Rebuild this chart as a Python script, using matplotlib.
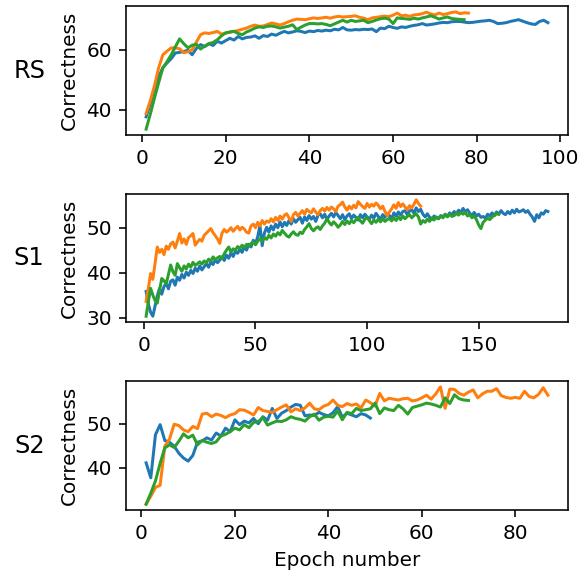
# 三种设置下正确率随训练轮数的变化

import matplotlib
matplotlib.use('Agg')
import matplotlib.pyplot as plt

# RS
rs_blue = [37.6, 42.0, 47.0, 51.0, 54.0, 55.6, 57.0, 58.9, 59.1, 59.4,
           59.8, 58.3, 60.4, 61.7, 61.0, 62.0, 61.4, 62.8, 62.2, 63.0,
           63.8, 63.2, 64.4, 63.6, 64.1, 64.2, 64.6, 63.8, 64.7, 64.4,
           65.2, 64.8, 65.5, 66.1, 65.6, 65.9, 66.3, 66.1, 65.7, 66.2,
           66.0, 66.4, 66.2, 66.5, 66.3, 66.8, 66.6, 67.4, 66.6, 66.5,
           66.7, 66.6, 66.8, 66.7, 66.9, 66.0, 67.2, 67.0, 67.8, 67.4,
           67.1, 67.6, 67.4, 67.8, 68.1, 68.3, 68.7, 68.2, 68.4, 68.6,
           68.9, 69.1, 69.0, 69.3, 69.4, 69.4, 69.2, 69.0, 69.1, 69.3,
           69.5, 69.6, 69.8, 69.4, 68.7, 68.8, 69.0, 69.4, 69.7, 70.0,
           69.5, 69.0, 68.6, 68.4, 69.4, 69.8, 69.0]
rs_orange = [38.7, 43.0, 48.0, 54.0, 58.3, 59.5, 60.6, 60.6, 60.3, 59.0,
             59.3, 60.0, 62.5, 65.0, 65.6, 65.4, 65.7, 66.1, 65.2, 65.5,
             65.8, 66.1, 66.4, 66.8, 67.2, 67.8, 68.2, 67.8, 67.9, 68.4,
             68.9, 68.6, 68.2, 68.7, 69.3, 69.8, 70.2, 70.1, 70.0, 70.3,
             70.6, 70.4, 70.6, 70.8, 70.5, 70.9, 71.1, 70.9, 71.0, 71.1,
             71.3, 70.8, 70.5, 70.0, 70.6, 70.8, 71.0, 71.2, 71.0, 71.5,
             72.2, 71.3, 71.5, 71.1, 71.6, 71.7, 72.0, 72.5, 71.9, 71.6,
             72.2, 71.7, 72.0, 72.4, 72.6, 72.0, 72.3, 72.2]
rs_green = [33.5, 38.5, 43.9, 49.0, 53.9, 56.0, 58.3, 61.0, 63.6, 62.0,
            60.6, 61.5, 61.8, 60.2, 61.2, 62.0, 62.4, 63.3, 64.6, 65.6,
            65.9, 66.1, 65.4, 65.0, 65.9, 66.5, 67.2, 67.6, 67.4, 67.8,
            67.9, 67.6, 67.2, 67.5, 67.8, 68.3, 66.7, 67.5, 68.2, 68.7,
            68.7, 68.6, 68.7, 68.4, 68.0, 68.6, 69.2, 69.8, 69.2, 69.8,
            69.4, 69.6, 69.8, 69.0, 69.4, 69.9, 70.3, 70.5, 70.2, 68.7,
            70.6, 70.4, 70.3, 70.1, 70.5, 70.2, 70.6, 70.9, 71.3, 70.8,
            70.2, 70.6, 70.9, 70.4, 70.2, 70.1, 70.0]

# S1
s1_blue = [35.8, 33.0, 31.2, 30.3, 32.5, 34.8, 36.5, 35.2, 36.9, 37.6,
           36.4, 38.1, 38.4, 37.2, 39.0, 38.3, 39.6, 38.8, 40.1, 39.4,
           40.5, 39.8, 41.0, 40.3, 41.5, 40.6, 41.3, 42.0, 41.2, 42.4,
           41.8, 42.9, 42.2, 42.8, 43.5, 42.7, 43.9, 43.2, 44.4, 43.6,
           44.8, 44.3, 45.2, 44.5, 45.8, 45.0, 46.3, 45.7, 47.2, 46.5,
           48.0, 50.5, 46.0, 48.8, 50.1, 49.0, 50.4, 49.5, 50.8, 50.0,
           51.3, 50.2, 51.2, 50.5, 51.6, 50.8, 52.0, 51.2, 51.8, 52.3,
           51.0, 52.4, 51.6, 52.7, 51.9, 52.5, 51.4, 52.8, 53.1, 52.2,
           53.0, 51.8, 52.6, 53.2, 52.4, 53.4, 52.7, 52.0, 52.9, 51.8,
           52.6, 53.1, 52.0, 52.8, 52.3, 51.7, 52.9, 52.2, 53.0, 52.4,
           51.9, 52.8, 52.1, 53.2, 52.5, 51.8, 52.9, 52.3, 53.1, 52.7,
           52.0, 53.3, 52.6, 53.5, 52.8, 53.6, 53.8, 52.9, 53.7, 54.0,
           53.2, 54.4, 53.6, 54.1, 53.0, 52.4, 53.1, 52.3, 51.8, 52.6,
           52.2, 52.0, 52.7, 52.4, 53.0, 52.5, 53.3, 52.8, 53.6, 53.1,
           53.9, 53.4, 54.3, 53.5, 54.0, 53.2, 52.8, 53.4, 52.6, 53.0,
           52.3, 52.5, 52.1, 53.0, 52.6, 53.3, 52.7, 53.5, 53.0, 53.8,
           53.2, 52.9, 53.6, 53.1, 53.9, 53.3, 54.1, 53.5, 53.7, 54.0,
           53.4, 53.8, 53.0, 52.4, 51.4, 52.9, 52.2, 53.3, 53.0, 53.8,
           53.6]
s1_orange = [33.6, 36.5, 39.8, 38.5, 42.0, 45.7, 44.5, 45.2, 44.0, 45.9,
             45.2, 46.4, 46.8, 45.5, 47.0, 48.7, 46.6, 47.5, 46.3, 47.8,
             48.2, 48.7, 46.1, 46.8, 47.4, 47.0, 48.3, 48.8, 49.3, 49.8,
             48.9, 48.2, 47.5, 46.5, 48.8, 49.6, 49.0, 49.4, 50.0, 49.2,
             49.8, 50.3, 49.5, 50.1, 49.7, 49.0, 48.8, 50.4, 50.8, 50.0,
             51.2, 50.4, 51.6, 50.8, 51.5, 51.2, 52.0, 51.3, 52.3, 51.6,
             52.6, 51.9, 52.8, 53.1, 52.2, 51.4, 52.9, 53.4, 52.6, 53.2,
             53.8, 53.0, 54.1, 53.6, 53.3, 54.2, 53.5, 52.9, 53.8, 54.3,
             53.7, 54.5, 53.9, 54.6, 54.2, 53.6, 54.8, 55.1, 55.7, 54.6,
             53.9, 54.8, 54.2, 55.0, 54.4, 55.8, 55.2, 54.7, 54.3, 55.4,
             54.6, 55.2, 54.8, 55.5, 55.0, 54.2, 54.8, 53.6, 52.7, 53.5,
             54.2, 55.1, 54.3, 55.6, 54.7, 55.3, 54.6, 54.0, 54.9, 54.4,
             55.2, 56.2, 55.4, 54.8]
s1_green = [30.3, 33.5, 36.5, 35.0, 33.8, 33.2, 36.0, 38.7, 38.2, 37.5,
            39.6, 41.7, 40.2, 39.4, 42.0, 41.1, 40.3, 41.5, 40.8, 41.9,
            41.2, 42.3, 41.6, 42.0, 42.4, 41.9, 42.6, 42.2, 43.0, 42.6,
            43.5, 42.9, 43.3, 43.6, 43.1, 44.2, 45.0, 45.7, 44.6, 45.3,
            45.0, 45.8, 45.4, 46.1, 45.6, 46.3, 45.9, 46.5, 46.8, 46.2,
            47.0, 47.5, 47.1, 47.8, 47.4, 48.3, 47.7, 48.6, 48.1, 48.9,
            48.4, 49.4, 48.8, 48.2, 47.9, 48.6, 49.1, 48.5, 48.3, 49.0,
            48.7, 49.6, 50.2, 50.9, 49.8, 49.3, 49.9, 50.2, 49.6, 50.4,
            51.0, 52.0, 51.2, 50.6, 51.3, 50.8, 50.1, 50.6, 51.4, 50.7,
            51.5, 50.9, 51.6, 51.1, 51.8, 52.3, 51.5, 51.0, 51.9, 52.3,
            51.6, 50.9, 51.7, 51.2, 51.9, 51.3, 52.0, 51.4, 51.8, 52.1,
            51.5, 52.2, 51.6, 52.4, 51.8, 52.6, 52.0, 52.5, 52.9, 52.2,
            52.7, 53.1, 52.4, 50.8, 51.6, 51.2, 51.9, 51.4, 52.2, 51.7,
            52.4, 52.0, 52.6, 52.2, 52.9, 52.4, 53.0, 52.5, 52.7, 53.2,
            52.8, 53.4, 53.0, 53.4, 52.6, 52.9, 52.2, 52.6, 51.8, 50.6,
            49.8, 51.2, 51.7, 52.1, 51.8, 52.4, 52.7, 53.1, 53.0]

# S2
s2_blue = [41.1, 37.7, 47.5, 49.8, 46.2, 45.8, 44.9, 43.3, 42.2, 41.5,
           42.8, 45.8, 46.1, 46.8, 46.3, 47.9, 47.2, 49.0, 48.2, 50.9,
           49.8, 50.6, 50.2, 51.2, 50.0, 51.6, 50.8, 53.5, 51.2, 52.4,
           53.0, 53.8, 54.4, 54.2, 51.8, 52.0, 51.9, 52.6, 52.1, 51.8,
           52.5, 53.9, 51.5, 52.4, 52.0, 51.6, 52.3, 52.0, 51.3]
s2_orange = [31.7, 33.5, 35.5, 36.0, 44.9, 46.5, 49.9, 49.6, 48.6, 48.2,
             49.4, 48.9, 52.2, 52.4, 51.6, 52.2, 51.9, 51.4, 52.0, 52.3,
             53.2, 53.1, 52.6, 52.0, 53.7, 53.0, 52.8, 52.6, 53.2, 53.8,
             54.3, 52.7, 53.4, 53.0, 53.6, 54.7, 53.4, 53.2, 54.0, 54.4,
             55.4, 54.2, 53.9, 54.6, 54.2, 54.5, 53.6, 55.4, 54.8, 54.0,
             56.9, 55.2, 55.8, 55.6, 55.4, 55.7, 55.8, 55.2, 55.4, 55.9,
             56.5, 55.6, 56.8, 58.4, 53.5, 57.9, 57.8, 56.9, 56.5, 57.2,
             57.7, 55.9, 56.8, 57.4, 57.4, 58.0, 56.4, 56.0, 55.8, 56.0,
             55.8, 57.4, 56.2, 55.9, 56.7, 58.2, 56.5]
s2_green = [31.7, 34.2, 37.0, 41.0, 44.5, 45.2, 44.6, 46.0, 47.7, 46.8,
            47.4, 45.2, 46.2, 45.8, 45.5, 45.9, 47.2, 47.6, 48.2, 49.0,
            48.6, 49.8, 49.1, 50.3, 50.5, 51.4, 49.7, 50.2, 50.6, 50.5,
            50.9, 51.6, 51.2, 51.0, 50.6, 51.6, 52.2, 50.8, 51.5, 51.7,
            51.5, 52.9, 50.9, 52.6, 52.3, 53.5, 53.0, 53.2, 53.4, 54.7,
            52.3, 53.6, 53.2, 53.0, 54.2, 53.4, 52.2, 53.7, 54.0, 54.3,
            54.7, 54.5, 54.2, 53.8, 55.9, 54.6, 56.6, 55.7, 55.4, 55.3]

names = ['RS', 'S1', 'S2']
series = [[rs_blue, rs_orange, rs_green],
          [s1_blue, s1_orange, s1_green],
          [s2_blue, s2_orange, s2_green]]
yticks = [[40, 60], [30, 40, 50], [40, 50]]


def main():
    fig = plt.figure(figsize=(587 / 144, 573 / 144), dpi=144)
    boxes = [[0.2147, 0.7644, 0.7529, 0.2251],
             [0.2147, 0.4380, 0.7529, 0.2234],
             [0.2147, 0.1099, 0.7529, 0.2252]]
    for i in range(3):
        ax = fig.add_axes(boxes[i])
        for ys in series[i]:
            x = [k + 1 for k in range(len(ys))]
            ax.plot(x, ys, linewidth=1.5)
        ax.set_yticks(yticks[i])
        ax.set_ylabel('Correctness')
        ax.text(-0.219, 0.5, names[i], transform=ax.transAxes,
                fontsize=12, ha='center', va='center')
        if i == 2:
            ax.set_xlabel('Epoch number')
    fig.savefig('out.png', dpi=144)


if __name__ == '__main__':
    main()
